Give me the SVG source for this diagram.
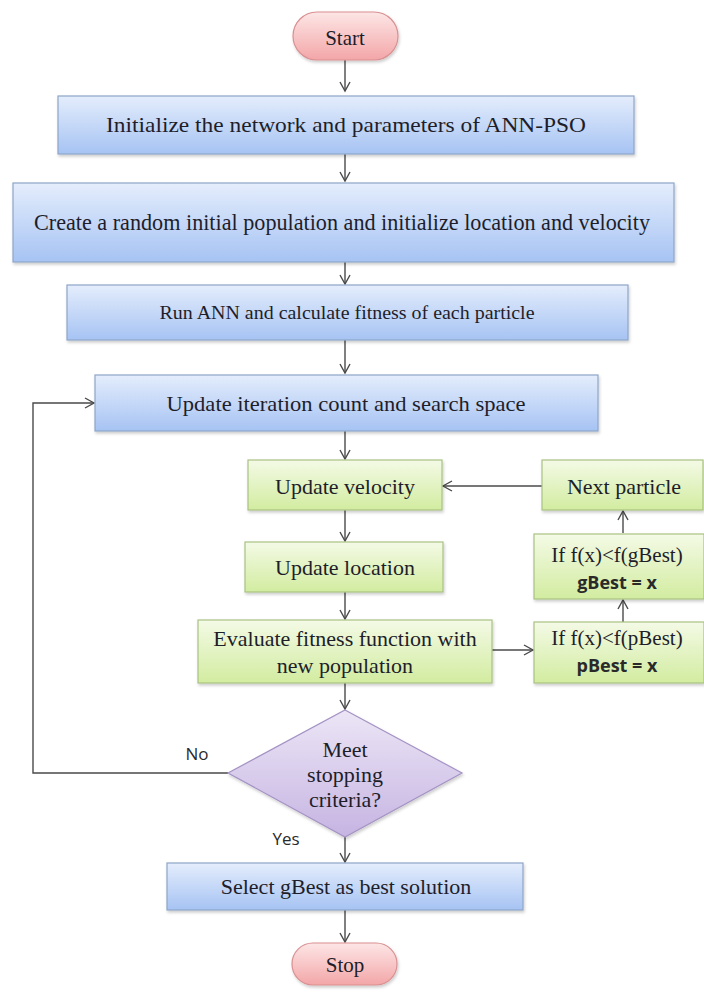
<svg xmlns="http://www.w3.org/2000/svg" width="704" height="992" viewBox="0 0 704 992">
<defs>
<linearGradient id="gBlue" x1="0" y1="0" x2="0" y2="1">
<stop offset="0" stop-color="#e4edfc"/>
<stop offset="1" stop-color="#a6c3f3"/>
</linearGradient>
<linearGradient id="gGreen" x1="0" y1="0" x2="0" y2="1">
<stop offset="0" stop-color="#f4fae6"/>
<stop offset="1" stop-color="#d2eca0"/>
</linearGradient>
<linearGradient id="gPink" x1="0" y1="0" x2="0" y2="1">
<stop offset="0" stop-color="#fde6e6"/>
<stop offset="1" stop-color="#f3a6a8"/>
</linearGradient>
<linearGradient id="gPurple" x1="0" y1="0" x2="0" y2="1">
<stop offset="0" stop-color="#ece6f6"/>
<stop offset="1" stop-color="#c6b4e2"/>
</linearGradient>
<filter id="sh" x="-5%" y="-10%" width="110%" height="130%">
<feDropShadow dx="1" dy="2" stdDeviation="1.5" flood-color="#000" flood-opacity="0.2"/>
</filter>
<marker id="arr" markerWidth="12" markerHeight="12" refX="10" refY="6" orient="auto" markerUnits="userSpaceOnUse">
<path d="M1,1 L10,6 L1,11" fill="none" stroke="#4a4a4a" stroke-width="1.4"/>
</marker>
<style>
.blue{fill:url(#gBlue);stroke:#8ea6c8;stroke-width:1.2;filter:url(#sh)}
.green{fill:url(#gGreen);stroke:#a9c282;stroke-width:1.2;filter:url(#sh)}
.pink{fill:url(#gPink);stroke:#d99092;stroke-width:1.2;filter:url(#sh)}
.purple{fill:url(#gPurple);stroke:#a493c4;stroke-width:1.2;filter:url(#sh)}
.t{font-family:"Liberation Serif","Times New Roman",serif;fill:#1e1e2a;text-anchor:middle}
.s{font-family:"Open Sans","Liberation Sans",sans-serif;fill:#2a2a2a;text-anchor:middle}
.c{fill:none;stroke:#4a4a4a;stroke-width:1.4;marker-end:url(#arr)}
</style>
</defs>
<g id="connectors">
<path class="c" d="M345,60 V91"/>
<path class="c" d="M345,154 V181"/>
<path class="c" d="M345,262 V284"/>
<path class="c" d="M345,340 V373"/>
<path class="c" d="M345,431 V459"/>
<path class="c" d="M345,510 V541"/>
<path class="c" d="M345,592 V619"/>
<path class="c" d="M345,683 V709"/>
<path class="c" d="M345,837 V862"/>
<path class="c" d="M345,910 V942"/>
<path class="c" d="M542,486 H443"/>
<path class="c" d="M623,622 V600"/>
<path class="c" d="M623,533 V511"/>
<path class="c" d="M492,650 H533"/>
<path class="c" d="M228,773 H33 V403 H94"/>
<text class="s" x="197" y="760" font-size="17">No</text>
<text class="s" x="286" y="845" font-size="17">Yes</text>
</g>
<g id="start">
<rect class="pink" x="293" y="12" width="105" height="48" rx="24"/>
<text class="t" x="345" y="45" font-size="21">Start</text>
</g>
<g id="init">
<rect class="blue" x="58" y="96" width="576" height="58"/>
<text class="t" x="346" y="132" font-size="22" textLength="480" lengthAdjust="spacingAndGlyphs">Initialize  the  network and  parameters of ANN-PSO</text>
</g>
<g id="create">
<rect class="blue" x="13" y="183" width="661" height="79"/>
<text class="t" x="342" y="230" font-size="23" textLength="616" lengthAdjust="spacingAndGlyphs">Create a random initial population and initialize location and velocity</text>
</g>
<g id="run">
<rect class="blue" x="67" y="285" width="561" height="55"/>
<text class="t" x="347" y="319" font-size="19" textLength="375" lengthAdjust="spacingAndGlyphs">Run ANN and calculate fitness of each particle</text>
</g>
<g id="update-iter">
<rect class="blue" x="95" y="375" width="503" height="56"/>
<text class="t" x="346" y="411" font-size="22" textLength="359" lengthAdjust="spacingAndGlyphs">Update iteration count and search space</text>
</g>
<g id="update-velocity">
<rect class="green" x="248" y="460" width="194" height="50"/>
<text class="t" x="345" y="494" font-size="22">Update velocity</text>
</g>
<g id="next-particle">
<rect class="green" x="542" y="460" width="161" height="50"/>
<text class="t" x="624" y="494" font-size="22">Next particle</text>
</g>
<g id="update-location">
<rect class="green" x="245" y="542" width="198" height="50"/>
<text class="t" x="345" y="575" font-size="22">Update location</text>
</g>
<g id="gbest">
<rect class="green" x="534" y="534" width="170" height="65"/>
<text class="t" x="617" y="562" font-size="21">If f(x)&lt;f(gBest)</text>
<text class="s" x="617" y="589" font-size="18" font-weight="bold">gBest = x</text>
</g>
<g id="evaluate">
<rect class="green" x="198" y="620" width="294" height="63"/>
<text class="t" x="345" y="646" font-size="22">Evaluate fitness function with</text>
<text class="t" x="345" y="673" font-size="22">new population</text>
</g>
<g id="pbest">
<rect class="green" x="534" y="622" width="170" height="61"/>
<text class="t" x="617" y="645" font-size="21">If f(x)&lt;f(pBest)</text>
<text class="s" x="617" y="672" font-size="18" font-weight="bold">pBest = x</text>
</g>
<g id="decision">
<polygon class="purple" points="345,710 462,773 345,837 228,773"/>
<text class="t" x="345" y="757" font-size="22">Meet</text>
<text class="t" x="345" y="782" font-size="22">stopping</text>
<text class="t" x="345" y="807" font-size="22">criteria?</text>
</g>
<g id="select">
<rect class="blue" x="167" y="863" width="356" height="47"/>
<text class="t" x="346" y="894" font-size="22">Select gBest as best solution</text>
</g>
<g id="stop">
<rect class="pink" x="292" y="943" width="105" height="42" rx="21"/>
<text class="t" x="345" y="972" font-size="21">Stop</text>
</g>
</svg>
